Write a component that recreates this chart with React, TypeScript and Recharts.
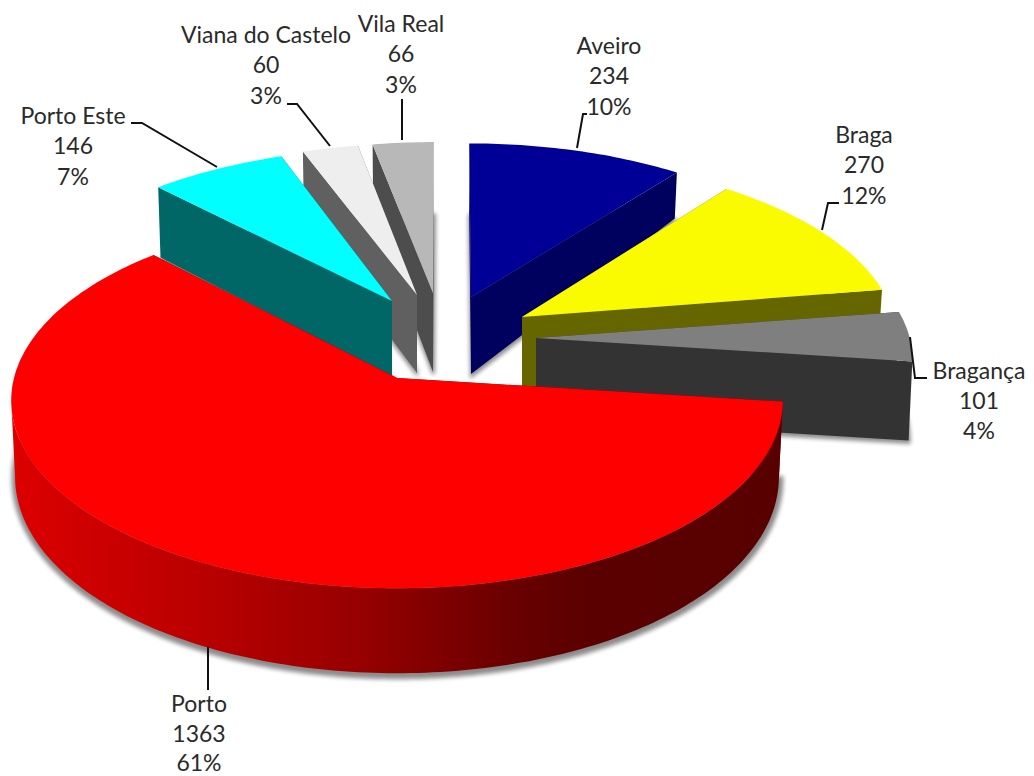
import React from "react";
import { PieChart, Pie } from "recharts";

// Data
const backNames = ["Vila Real", "Viana do Castelo", "Porto Este"];
const backValues = [66, 60, 146];
const backPercents = ["3%", "3%", "7%"];
const frontNames = ["Aveiro", "Braga", "Bragança", "Porto"];
const frontValues = [234, 270, 101, 1363];
const frontPercents = ["10%", "12%", "4%", "61%"];

const backData = backNames.map((name, i) => ({ name, value: backValues[i], pct: backPercents[i] }));
const frontData = frontNames.map((name, i) => ({ name, value: frontValues[i], pct: frontPercents[i] }));
const total = [...backValues, ...frontValues].reduce((a, b) => a + b, 0);
const backSweep = (backValues.reduce((a, b) => a + b, 0) / total) * 360;

// Look of each exploded slice: perspective projection of its plane.
type Look = {
  ax: number; ay: number; a: number; b: number; c: number; d: number;
  d0: number; ds: number; dc: number; top: string; face: string; wall?: string; shadow: number;
  lx: number; ly: number[]; leader: number[][];
};
const PERSPECTIVE = 0.12;
const looks: Record<string, Look> = {
  Aveiro: { ax: 471, ay: 297, a: 372, b: -2, c: 0, d: 172, d0: 77, ds: -42, dc: -7, top: "#000096", face: "#00005f", shadow: 3,
    lx: 609, ly: [46, 76, 107], leader: [[577, 148], [583, 114], [587, 114]] },
  Braga: { ax: 522, ay: 317, a: 372, b: -4, c: 0, d: 177, d0: 75, ds: -20, dc: 0, top: "#fafa00", face: "#666600", shadow: 3,
    lx: 864, ly: [135, 165, 196], leader: [[822, 230], [828, 203], [839, 203]] },
  "Bragança": { ax: 536, ay: 338, a: 374, b: 3, c: 1, d: 175, d0: 80, ds: -1, dc: 0, top: "#7f7f7f", face: "#333333", shadow: 3,
    lx: 979, ly: [371, 401, 431], leader: [[910, 337], [915, 378], [927, 378]] },
  Porto: { ax: 397, ay: 378, a: 383, b: 0, c: 0, d: 185, d0: 75, ds: 0, dc: -10, top: "#fe0000", face: "#5a0000", wall: "url(#portoWall)", shadow: 8,
    lx: 199, ly: [704, 734, 763], leader: [[208, 647], [208, 690]] },
  "Porto Este": { ax: 392, ay: 301, a: 375, b: 7, c: -1, d: 172, d0: 76, ds: 0, dc: -8, top: "#00ffff", face: "#006666", shadow: 3,
    lx: 73, ly: [116, 146, 177], leader: [[131, 123], [142, 123], [217, 167]] },
  "Viana do Castelo": { ax: 417, ay: 295, a: 375, b: 3, c: 0, d: 170, d0: 78, ds: 0, dc: -8, top: "#eeeeee", face: "#606060", shadow: 3,
    lx: 266, ly: [35, 65, 96], leader: [[287, 104], [297, 104], [330, 146]] },
  "Vila Real": { ax: 433, ay: 293, a: 372, b: 1, c: 0, d: 169, d0: 79, ds: 0, dc: -8, top: "#b8b8b8", face: "#4d4d4d", shadow: 3,
    lx: 401, ly: [24, 54, 85], leader: [[402, 99], [402, 140]] },
};

const RAD = Math.PI / 180;
const projectTop = (l: Look, deg: number, r: number) => {
  const s = Math.sin(deg * RAD), c = Math.cos(deg * RAD);
  const w = 1 + PERSPECTIVE * r * c;
  return [l.ax + (r * (l.a * s + l.b * c)) / w, l.ay + (r * (l.c * s - l.d * c)) / w];
};
const projectBottom = (l: Look, deg: number, r: number) => {
  const [x, y] = projectTop(l, deg, r);
  const s = Math.sin(deg * RAD), c = Math.cos(deg * RAD);
  return [l.ax + (x - l.ax) * 0.99, y + l.d0 + r * (l.ds * s + l.dc * c)];
};
const toPath = (pts: number[][]) => "M" + pts.map((p) => `${p[0].toFixed(1)},${p[1].toFixed(1)}`).join("L") + "Z";
const arc = (from: number, to: number, fn: (deg: number) => number[]) => {
  const n = Math.max(2, Math.ceil(to - from));
  return Array.from({ length: n + 1 }, (_, i) => fn(from + ((to - from) * i) / n));
};
// The rim wall only faces the viewer between the two silhouette tangents (cos = -perspective).
const TANGENT = Math.acos(-PERSPECTIVE) / RAD;

const Slice3D = (props: any) => {
  const name = props.name ?? props.payload?.name;
  const l = looks[name];
  if (!l) return null;
  // Library angles (counter-clockwise from east) to clock angles from the top.
  const t1 = 90 - Math.max(props.startAngle, props.endAngle);
  const t2 = 90 - Math.min(props.startAngle, props.endAngle);
  const rimTop = arc(t1, t2, (d) => projectTop(l, d, 1));
  const rimBottom = arc(t1, t2, (d) => projectBottom(l, d, 1));
  const apexT = projectTop(l, 0, 0);
  const apexB = projectBottom(l, 0, 0);
  const faceAt = (i: number) => {
    const top = i === 0 ? rimTop[0] : rimTop[rimTop.length - 1];
    const bot = i === 0 ? rimBottom[0] : rimBottom[rimBottom.length - 1];
    return toPath([apexT, top, bot, apexB]);
  };
  const w1 = Math.max(t1, TANGENT);
  const w2 = Math.min(t2, 360 - TANGENT);
  const showWall = w2 > w1;
  const shadowId = "blur-" + name.replace(/\W/g, "");
  return (
    <g>
      <defs>
        <filter id={shadowId} x="-10%" y="-10%" width="120%" height="120%">
          <feGaussianBlur stdDeviation="2.2" />
        </filter>
        {name === "Porto" && (
          <linearGradient id="portoWall" gradientUnits="userSpaceOnUse" x1="15" y1="0" x2="785" y2="0">
            <stop offset="0" stopColor="#dc0000" />
            <stop offset="0.25" stopColor="#b80000" />
            <stop offset="0.45" stopColor="#960000" />
            <stop offset="0.65" stopColor="#680000" />
            <stop offset="0.75" stopColor="#5a0000" />
            <stop offset="1" stopColor="#580000" />
          </linearGradient>
        )}
      </defs>
      <path
        d={toPath([apexB, ...rimBottom])}
        transform="translate(0.5 2)"
        fill="#000"
        stroke="#000"
        strokeWidth={l.shadow}
        opacity={0.45}
        filter={`url(#${shadowId})`}
      />
      <path d={faceAt(0)} fill={l.face} />
      <path d={faceAt(1)} fill={l.face} />
      {showWall && (
        <path
          d={toPath([...arc(w1, w2, (d) => projectTop(l, d, 1)), ...arc(w1, w2, (d) => projectBottom(l, d, 1)).reverse()])}
          fill={l.wall ?? l.face}
        />
      )}
      <path d={toPath([apexT, ...rimTop])} fill={l.top} />
    </g>
  );
};

const SliceLabel = (props: any) => {
  const p = props.payload ?? props;
  const l = looks[p.name];
  if (!l) return null;
  const lines = [p.name, String(p.value), p.pct];
  return (
    <g>
      <polyline points={l.leader.map((q) => q.join(",")).join(" ")} fill="none" stroke="#111" strokeWidth={2} />
      {lines.map((t, i) => (
        <text key={i} x={l.lx} y={l.ly[i] + 8} textAnchor="middle" fontFamily="Lato, 'Open Sans', sans-serif" fontSize={23} fill="#2a2a2a">
          {t}
        </text>
      ))}
    </g>
  );
};

export default function App() {
  return (
    <div style={{ position: "absolute", left: 0, top: 0, width: 1034, height: 776, background: "#fff", overflow: "hidden" }}>
      <PieChart width={1034} height={776} margin={{ top: 0, right: 0, bottom: 0, left: 0 }}>
        <Pie
          data={backData}
          dataKey="value"
          nameKey="name"
          cx={400}
          cy={350}
          outerRadius={200}
          startAngle={90}
          endAngle={90 + backSweep}
          isAnimationActive={false}
          shape={Slice3D}
          inactiveShape={Slice3D}
          activeShape={Slice3D}
          label={SliceLabel}
          labelLine={false}
        />
        <Pie
          data={frontData}
          dataKey="value"
          nameKey="name"
          cx={400}
          cy={350}
          outerRadius={200}
          startAngle={90}
          endAngle={90 + backSweep - 360}
          isAnimationActive={false}
          shape={Slice3D}
          inactiveShape={Slice3D}
          activeShape={Slice3D}
          label={SliceLabel}
          labelLine={false}
        />
      </PieChart>
    </div>
  );
}
